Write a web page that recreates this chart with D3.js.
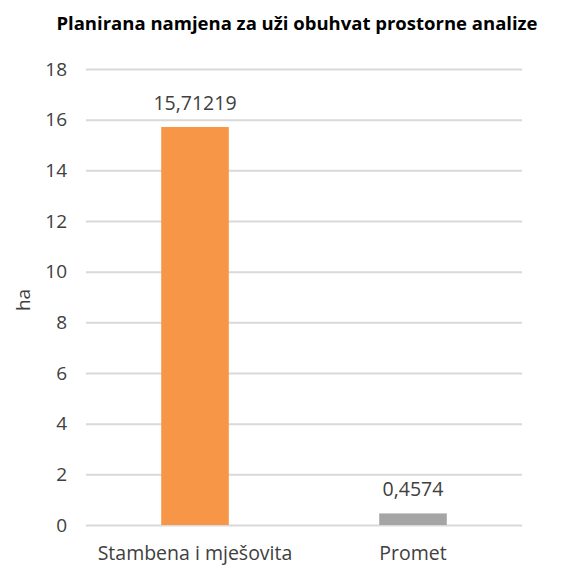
<!DOCTYPE html>
<html>
<head>
<meta charset="utf-8">
<script src="https://cdn.jsdelivr.net/npm/d3@7"></script>
<style>
  body { margin: 0; background: #fff; }
  svg text { font-family: "Open Sans", "Noto Sans", sans-serif; }
</style>
</head>
<body>
<script>
const categories = ['Stambena i mješovita', 'Promet'];
const values = [15.71219, 0.4574];
const valueLabels = ['15,71219', '0,4574'];
const barColors = ['#F79646', '#A5A5A5'];
const yTicks = [0, 2, 4, 6, 8, 10, 12, 14, 16, 18];

const width = 572;
const height = 574;
const margin = { top: 69, right: 50, bottom: 49, left: 86 };

const svg = d3.select('body')
  .append('svg')
  .attr('width', width)
  .attr('height', height);

const x = d3.scaleBand()
  .domain(categories)
  .range([margin.left, width - margin.right])
  .paddingInner(0.69)
  .paddingOuter(0.345);

const y = d3.scaleLinear()
  .domain([0, 18])
  .range([height - margin.bottom, margin.top]);

// gridlines + tick labels
const yAxis = svg.append('g')
  .attr('transform', `translate(${margin.left},0)`)
  .call(d3.axisLeft(y).tickValues(yTicks).tickSize(-(width - margin.left - margin.right)).tickPadding(19));
yAxis.select('.domain').remove();
yAxis.selectAll('.tick line')
  .attr('stroke', '#D9D9D9')
  .attr('stroke-width', 2);
yAxis.selectAll('.tick text')
  .attr('fill', '#404040')
  .style('font-size', '19px');

// bars
svg.selectAll('.bar')
  .data(values)
  .enter().append('rect')
  .attr('class', 'bar')
  .attr('x', (d, i) => x(categories[i]))
  .attr('y', d => y(d))
  .attr('width', x.bandwidth())
  .attr('height', d => y(0) - y(d))
  .attr('fill', (d, i) => barColors[i]);

// value labels
svg.selectAll('.val')
  .data(values)
  .enter().append('text')
  .attr('class', 'val')
  .attr('x', (d, i) => x(categories[i]) + x.bandwidth() / 2)
  .attr('y', d => y(d) - 17)
  .attr('text-anchor', 'middle')
  .attr('fill', '#404040')
  .style('font-size', '19.5px')
  .text((d, i) => valueLabels[i]);

// category labels
svg.selectAll('.cat')
  .data(categories)
  .enter().append('text')
  .attr('class', 'cat')
  .attr('x', d => x(d) + x.bandwidth() / 2)
  .attr('y', 560)
  .attr('text-anchor', 'middle')
  .attr('fill', '#404040')
  .style('font-size', '19.5px')
  .text(d => d);

// axis title
svg.append('text')
  .attr('transform', `translate(30,300) rotate(-90)`)
  .attr('text-anchor', 'middle')
  .attr('fill', '#404040')
  .style('font-size', '19px')
  .text('ha');

// chart title
svg.append('text')
  .attr('x', 297)
  .attr('y', 30)
  .attr('text-anchor', 'middle')
  .attr('fill', '#000')
  .style('font-size', '18.5px')
  .style('font-weight', 'bold')
  .text('Planirana namjena za uži obuhvat prostorne analize');
</script>
</body>
</html>
